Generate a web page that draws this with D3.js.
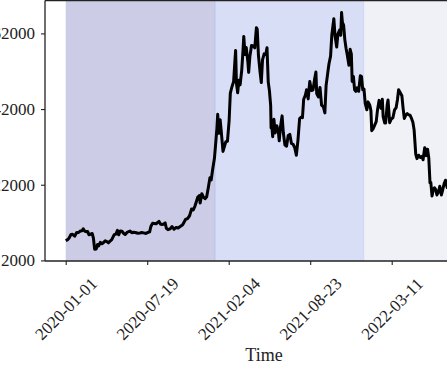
<!DOCTYPE html>
<html>
<head>
  <meta charset="UTF-8">
	<style>
	body {
		margin: 0;
		background: white;
	}
	svg text {
		font-family: 'Liberation Serif', 'Times New Roman', serif;
		fill: #222;
	}
	.axis path {
		display: none;
	}
	.axis line {
		stroke: #222;
		stroke-width: 1.1px;
	}
	</style>
</head>
<body>
	<div id="chart"></div>
	<script src="https://d3js.org/d3.v7.min.js"></script>
	<script>

	// price series (roughly every few days)
	let dates = [
		"2020-01-01","2020-01-05","2020-01-09","2020-01-14","2020-01-18","2020-01-23","2020-01-28","2020-02-01","2020-02-06","2020-02-10",
		"2020-02-13","2020-02-17","2020-02-20","2020-02-24","2020-02-27","2020-03-02","2020-03-06","2020-03-09","2020-03-12","2020-03-16",
		"2020-03-19","2020-03-22","2020-03-26","2020-03-30","2020-04-03","2020-04-07","2020-04-12","2020-04-15","2020-04-19","2020-04-23",
		"2020-04-29","2020-05-03","2020-05-07","2020-05-10","2020-05-14","2020-05-18","2020-05-22","2020-05-26","2020-05-31","2020-06-02",
		"2020-06-07","2020-06-11","2020-06-15","2020-06-20","2020-06-26","2020-07-01","2020-07-06","2020-07-10","2020-07-16","2020-07-21",
		"2020-07-25","2020-07-28","2020-08-01","2020-08-05","2020-08-10","2020-08-17","2020-08-21","2020-08-26","2020-09-01","2020-09-04",
		"2020-09-08","2020-09-13","2020-09-18","2020-09-23","2020-09-28","2020-10-03","2020-10-09","2020-10-14","2020-10-21","2020-10-26",
		"2020-10-31","2020-11-05","2020-11-09","2020-11-13","2020-11-17","2020-11-20","2020-11-24","2020-11-26","2020-11-30","2020-12-04",
		"2020-12-08","2020-12-12","2020-12-16","2020-12-20","2020-12-23","2020-12-27","2020-12-31","2021-01-03","2021-01-06","2021-01-08",
		"2021-01-11","2021-01-14","2021-01-17","2021-01-21","2021-01-25","2021-01-28","2021-02-01","2021-02-05","2021-02-08","2021-02-12",
		"2021-02-16","2021-02-20","2021-02-21","2021-02-23","2021-02-26","2021-03-01","2021-03-04","2021-03-08","2021-03-11","2021-03-13",
		"2021-03-16","2021-03-19","2021-03-23","2021-03-25","2021-03-28","2021-04-01","2021-04-05","2021-04-09","2021-04-13","2021-04-15",
		"2021-04-18","2021-04-22","2021-04-25","2021-04-28","2021-05-02","2021-05-06","2021-05-09","2021-05-12","2021-05-15","2021-05-18",
		"2021-05-19","2021-05-21","2021-05-23","2021-05-26","2021-05-29","2021-06-02","2021-06-06","2021-06-08","2021-06-11","2021-06-15",
		"2021-06-18","2021-06-22","2021-06-26","2021-06-30","2021-07-04","2021-07-08","2021-07-12","2021-07-16","2021-07-20","2021-07-24",
		"2021-07-28","2021-08-01","2021-08-04","2021-08-07","2021-08-11","2021-08-14","2021-08-18","2021-08-22","2021-08-26","2021-08-30",
		"2021-09-03","2021-09-06","2021-09-08","2021-09-12","2021-09-16","2021-09-20","2021-09-24","2021-09-28","2021-10-01","2021-10-05",
		"2021-10-08","2021-10-12","2021-10-15","2021-10-20","2021-10-23","2021-10-27","2021-10-30","2021-11-03","2021-11-06","2021-11-08",
		"2021-11-10","2021-11-13","2021-11-16","2021-11-19","2021-11-22","2021-11-26","2021-11-29","2021-12-02","2021-12-04","2021-12-07",
		"2021-12-10","2021-12-13","2021-12-16","2021-12-20","2021-12-24","2021-12-27","2021-12-30","2022-01-02","2022-01-05","2022-01-09",
		"2022-01-12","2022-01-16","2022-01-19","2022-01-21","2022-01-24","2022-01-28","2022-02-01","2022-02-04","2022-02-08","2022-02-10",
		"2022-02-13","2022-02-16","2022-02-18","2022-02-22","2022-02-24","2022-02-28","2022-03-02","2022-03-06","2022-03-10","2022-03-14",
		"2022-03-18","2022-03-22","2022-03-25","2022-03-28","2022-04-01","2022-04-05","2022-04-08","2022-04-11","2022-04-15","2022-04-18",
		"2022-04-21","2022-04-25","2022-04-28","2022-05-02","2022-05-05","2022-05-09","2022-05-12","2022-05-16","2022-05-20","2022-05-24",
		"2022-05-27","2022-05-31","2022-06-04","2022-06-07","2022-06-10","2022-06-13","2022-06-15","2022-06-18","2022-06-21","2022-06-24",
		"2022-06-27","2022-06-30","2022-07-04","2022-07-07","2022-07-11","2022-07-14","2022-07-18","2022-07-21","2022-07-25","2022-07-29",
		"2022-08-02","2022-08-08","2022-08-14","2022-08-19","2022-08-28","2022-09-07","2022-09-12","2022-09-19","2022-09-28","2022-10-05",
		"2022-10-13"
	];
	let prices = [
		7200,7410,7880,8840,8900,8400,9390,9350,9750,9850,
		10350,9700,9600,9660,8780,8900,9120,7900,4970,5030,
		6190,5830,6750,6410,6730,7200,6910,6640,7120,7500,
		8800,8910,9950,8760,9790,9730,9170,8840,9450,9520,
		9760,9330,9430,9360,9170,9240,9350,9270,9130,9390,
		9550,10950,11800,11750,11680,12300,11530,11470,11920,10500,
		10130,10330,10930,10240,10700,10550,11050,11420,12820,13070,
		13800,15600,15330,16300,17650,18680,19160,17150,19630,18700,
		18300,18800,21300,23860,23240,26300,29000,32800,36800,40600,
		35600,39200,35800,30800,32300,33400,33500,38900,46200,47900,
		49200,56000,57500,48800,46300,49600,48400,52300,57300,61200,
		56400,58300,54500,51700,55900,58800,58700,58200,63500,63100,
		56200,51800,49000,55000,56600,56400,58200,49200,46800,42900,
		37000,37300,34700,39300,35700,37600,35800,33600,37300,40200,
		35800,32500,32200,35000,35300,32900,32700,31800,29800,33800,
		39500,39900,39700,44600,45600,47100,44700,49300,46900,47100,
		50000,51800,46100,45200,47700,43000,42700,41000,48200,51500,
		53900,56000,61500,65900,61300,58400,61800,62900,61500,67500,
		64900,64200,60300,58100,56300,53600,57800,56500,49300,50600,
		47100,46700,47600,46700,50800,50600,47100,47300,43500,41800,
		43900,43100,41600,36300,36700,37700,38700,41600,44300,43600,
		42200,44600,40000,38300,38300,43200,44400,38400,39400,39700,
		41800,42400,44400,47100,46300,45500,42200,39500,40500,40800,
		40500,40400,39700,38500,36500,30100,28900,29800,29200,29500,
		28600,31800,29700,31400,29100,22500,22600,19000,20700,21200,
		20700,19300,20200,21600,19300,20600,22400,23200,21300,23800,
		22900,23800,24300,20800,19600,19300,22400,19500,19400,20300,
		19400
	];

	// shaded yearly periods
	let periodStarts = ["2020-01-01", "2021-01-01", "2022-01-01"];
	let periodEnds = ["2021-01-01", "2022-01-01", "2023-01-01"];
	let periodColors = ["#cccce6", "#d8def6", "#eff1f7"];

	let xTicks = ["2020-01-01", "2020-07-19", "2021-02-04", "2021-08-23", "2022-03-11"];
	let yTicks = [2000, 22000, 42000, 62000];
	let yLimits = [1840, 70700];

	let width = 447, height = 367;
	let plotLeft = 45, plotTop = 0.5, plotRight = 483, plotBottom = 261;
	let serif = "'Liberation Serif', 'Times New Roman', serif";

	let parse = d3.timeParse("%Y-%m-%d");
	let data = dates.map((d, i) => ({date: parse(d), price: prices[i]}));

	let svg = d3.select("#chart")
		.append("svg")
		.attr("width", width)
		.attr("height", height);

	let x = d3.scaleTime()
		.domain([parse(xTicks[0]), parse(xTicks[4])])
		.range([65.7, 391.7]);

	let y = d3.scaleLinear()
		.domain(yLimits)
		.range([plotBottom, plotTop]);

	svg.append("clipPath")
		.attr("id", "plotClip")
		.append("rect")
		.attr("x", plotLeft)
		.attr("y", plotTop)
		.attr("width", plotRight - plotLeft)
		.attr("height", plotBottom - plotTop);

	let plot = svg.append("g")
		.attr("clip-path", "url(#plotClip)");

	plot.selectAll("rect.period")
		.data(periodStarts)
		.enter()
		.append("rect")
		.attr("class", "period")
		.attr("x", d => x(parse(d)))
		.attr("y", plotTop)
		.attr("width", (d, i) => x(parse(periodEnds[i])) - x(parse(d)))
		.attr("height", plotBottom - plotTop)
		.attr("fill", (d, i) => periodColors[i]);

	// faint edge where two spans meet
	plot.selectAll("line.edge")
		.data(periodStarts.slice(1))
		.enter()
		.append("line")
		.attr("class", "edge")
		.attr("x1", d => x(parse(d)))
		.attr("x2", d => x(parse(d)))
		.attr("y1", plotTop)
		.attr("y2", plotBottom)
		.attr("stroke", (d, i) => i === 0 ? "#b9c2ee" : "#d3d9f2")
		.attr("stroke-width", 1.2);

	let line = d3.line()
		.x(d => x(d.date))
		.y(d => y(d.price));

	plot.append("path")
		.datum(data)
		.attr("d", line)
		.attr("fill", "none")
		.attr("stroke", "black")
		.attr("stroke-width", 3)
		.attr("stroke-linejoin", "round");

	// axes
	let xAxis = svg.append("g")
		.attr("class", "axis")
		.attr("transform", "translate(0," + plotBottom + ")")
		.call(d3.axisBottom(x)
			.tickValues(xTicks.map(parse))
			.tickSize(4)
			.tickFormat(d3.timeFormat("%Y-%m-%d")))
		.attr("font-family", serif);

	xAxis.selectAll("text")
		.style("font-family", serif)
		.attr("font-size", "17px")
		.attr("text-anchor", "middle")
		.attr("dominant-baseline", "central")
		.attr("dy", null)
		.attr("y", null)
		.attr("transform", "translate(0,48) rotate(-45)");

	let yAxis = svg.append("g")
		.attr("class", "axis")
		.attr("transform", "translate(" + plotLeft + ",0)")
		.call(d3.axisLeft(y)
			.tickValues(yTicks)
			.tickSize(4)
			.tickPadding(6)
			.tickFormat(d3.format("d")))
		.attr("font-family", serif);

	yAxis.selectAll("text")
		.style("font-family", serif)
		.attr("font-size", "17px");

	// spines
	svg.append("line")
		.attr("x1", plotLeft).attr("x2", plotLeft)
		.attr("y1", plotTop).attr("y2", plotBottom)
		.attr("stroke", "#222").attr("stroke-width", 1.3);
	svg.append("line")
		.attr("x1", plotLeft).attr("x2", plotRight)
		.attr("y1", plotBottom).attr("y2", plotBottom)
		.attr("stroke", "#222").attr("stroke-width", 1.3);
	svg.append("line")
		.attr("x1", plotLeft).attr("x2", plotRight)
		.attr("y1", plotTop).attr("y2", plotTop)
		.attr("stroke", "#222").attr("stroke-width", 1.3);

	svg.append("text")
		.attr("x", (plotLeft + plotRight) / 2)
		.attr("y", 361)
		.attr("text-anchor", "middle")
		.attr("font-size", "18px")
		.text("Time");

</script>
</body>
</html>
